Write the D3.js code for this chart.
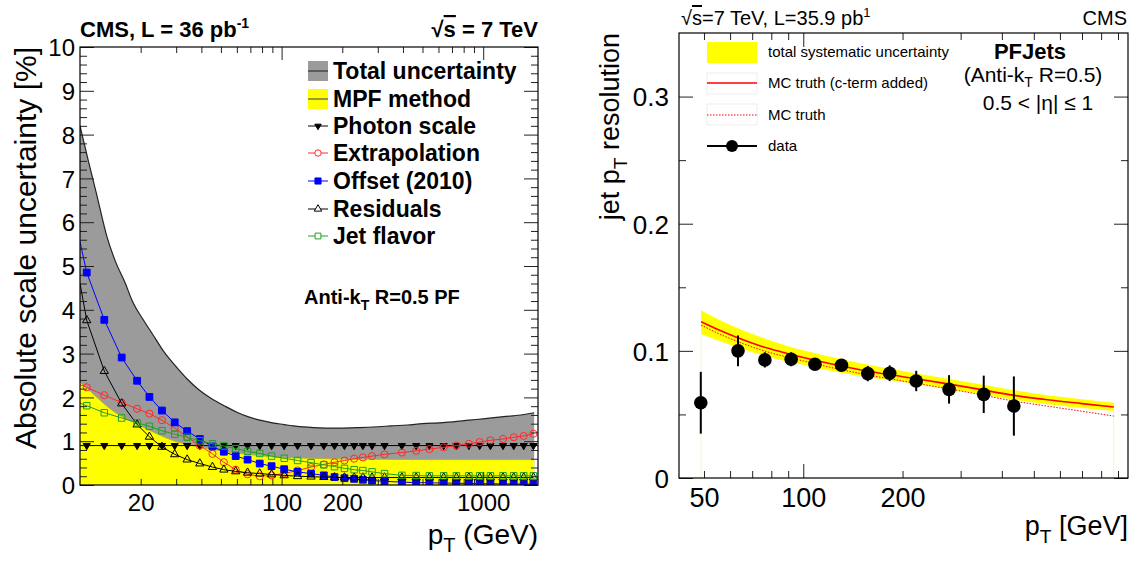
<!DOCTYPE html>
<html><head><meta charset="utf-8">
<script src="https://cdn.jsdelivr.net/npm/d3@7"></script>
<style>body{margin:0;background:#fff} text{font-family:"Liberation Sans",Arial,sans-serif}</style>
</head><body><svg id="c" width="1137" height="566" xmlns="http://www.w3.org/2000/svg"></svg>
<script>
// ---------- LEFT PANEL DATA ----------
const ptBins = [10.8, 13.2, 16.1, 19.2, 22.1, 25.5, 29.5, 34, 39.3, 45.4, 51.7, 59.2, 67.8, 77.9, 89.2, 103, 120, 140, 162, 183, 205, 229, 253, 281, 324, 395, 465, 541, 637, 736, 849, 960, 1086, 1254, 1417, 1589, 1775];
const photonScale = ptBins.map(() => 0.9);
const extrapolation = [2.23, 2.05, 1.88, 1.74, 1.63, 1.48, 1.30, 1.10, 0.90, 0.71, 0.52, 0.35, 0.245, 0.20, 0.22, 0.265, 0.33, 0.41, 0.47, 0.52, 0.56, 0.60, 0.63, 0.66, 0.70, 0.74, 0.78, 0.82, 0.86, 0.90, 0.94, 0.98, 1.02, 1.05, 1.09, 1.12, 1.17];
const offset2010 = [4.85, 3.77, 2.91, 2.38, 2.01, 1.70, 1.43, 1.23, 1.05, 0.88, 0.76, 0.66, 0.58, 0.49, 0.43, 0.36, 0.30, 0.26, 0.22, 0.18, 0.155, 0.14, 0.12, 0.10, 0.085, 0.065, 0.055, 0.05, 0.045, 0.04, 0.035, 0.03, 0.03, 0.025, 0.025, 0.02, 0.02];
const residuals = [3.76, 2.60, 1.86, 1.38, 1.10, 0.87, 0.70, 0.58, 0.49, 0.41, 0.35, 0.31, 0.28, 0.26, 0.24, 0.22, 0.20, 0.19, 0.18, 0.175, 0.17, 0.17, 0.17, 0.17, 0.17, 0.17, 0.17, 0.17, 0.17, 0.17, 0.17, 0.17, 0.17, 0.17, 0.17, 0.17, 0.17];
const jetFlavor = [1.81, 1.65, 1.53, 1.42, 1.34, 1.24, 1.16, 1.09, 1.01, 0.94, 0.89, 0.83, 0.77, 0.72, 0.66, 0.61, 0.56, 0.51, 0.46, 0.42, 0.38, 0.35, 0.33, 0.30, 0.26, 0.22, 0.215, 0.21, 0.21, 0.21, 0.21, 0.21, 0.21, 0.21, 0.21, 0.21, 0.21];
// curve values at the left frame edge (pT = 10)
const seriesEdge = {photon: 0.9, extrap: 2.29, offset: 5.55, resid: 4.6, flavor: 1.87};
const bandPt = [10, 11, 12, 13.6, 15, 16.8, 18.1, 20.4, 22.8, 26, 30, 34, 39, 45, 53, 60, 68, 78, 90, 103, 114, 135, 167, 200, 242, 300, 350, 420, 500, 600, 708, 850, 1000, 1200, 1400, 1600, 1790];
const totalUpper = [8.2, 7.4, 6.7, 5.67, 5.1, 4.6, 4.22, 3.8, 3.46, 3.05, 2.7, 2.42, 2.17, 1.97, 1.79, 1.66, 1.56, 1.48, 1.42, 1.38, 1.35, 1.32, 1.30, 1.30, 1.31, 1.33, 1.35, 1.37, 1.40, 1.42, 1.44, 1.48, 1.51, 1.55, 1.58, 1.61, 1.65];
const mpfUpper = [2.35, 2.18, 2.02, 1.80, 1.65, 1.52, 1.45, 1.33, 1.22, 1.10, 0.99, 0.93, 0.87, 0.82, 0.76, 0.73, 0.70, 0.67, 0.645, 0.63, 0.62, 0.61, 0.60, 0.595, 0.59, 0.59, 0.585, 0.585, 0.58, 0.58, 0.58, 0.58, 0.58, 0.58, 0.58, 0.58, 0.58];
const leftXLabels = [20, 100, 200, 1000];
const leftYTicks = [0,1,2,3,4,5,6,7,8,9,10];
const leftLegend = ["Total uncertainty", "MPF method", "Photon scale", "Extrapolation", "Offset (2010)", "Residuals", "Jet flavor"];

// ---------- RIGHT PANEL DATA ----------
const dataPt = [48.9, 63.4, 76.5, 91.9, 108.5, 130.6, 156.9, 182.8, 220, 276.7, 352.5, 435];
const dataRes = [0.0592, 0.1000, 0.0929, 0.0934, 0.0895, 0.0887, 0.0821, 0.0824, 0.0763, 0.0697, 0.0658, 0.0566];
const dataErr = [0.0243, 0.0121, 0.0060, 0.0055, 0.0035, 0.0040, 0.0060, 0.0062, 0.0080, 0.0112, 0.0147, 0.0233];
const curvePt = [49, 56, 63, 75, 88, 100, 120, 150, 200, 260, 330, 435, 550, 700, 874];
const mcCterm = [0.1229, 0.1160, 0.1105, 0.1035, 0.0985, 0.0947, 0.0900, 0.0850, 0.0797, 0.0750, 0.0705, 0.0650, 0.0615, 0.0585, 0.0558];
const mcTruth = [0.1203, 0.1130, 0.1075, 0.1005, 0.0955, 0.0921, 0.0872, 0.0820, 0.0763, 0.0712, 0.0665, 0.0605, 0.0565, 0.0525, 0.0487];
const sysHi = [0.1318, 0.1240, 0.1180, 0.1105, 0.1045, 0.1005, 0.0955, 0.0900, 0.0842, 0.0790, 0.0745, 0.0690, 0.0650, 0.0620, 0.0592];
const sysLo = [0.1132, 0.1075, 0.1030, 0.0965, 0.0920, 0.0890, 0.0845, 0.0800, 0.0755, 0.0710, 0.0668, 0.0615, 0.0580, 0.0550, 0.0526];
const rightXLabels = [50, 100, 200];
const rightYTicks = [0, 0.1, 0.2, 0.3];
const rightLegend = ["total systematic uncertainty", "MC truth (c-term added)", "MC truth", "data"];

const FONT = '"Liberation Sans", Arial, sans-serif';
const svg = d3.select('#c');

function logTicks(dom) {
  const out = [];
  for (let d = 1; d <= 10000; d *= 10) for (let k = 1; k <= 9; k++) {
    const v = k * d; if (v > dom[0] * 1.001 && v < dom[1] * 0.999) out.push(v);
  }
  return out;
}
function styleAxis(g) { g.select('.domain').remove(); g.selectAll('line').attr('stroke', '#222'); }

// ================= LEFT PANEL =================
const L = {x0: 80, x1: 538, y0: 47, y1: 485};
const xL = d3.scaleLog().domain([10, 1870]).range([L.x0, L.x1]);
const yL = d3.scaleLinear().domain([0, 10]).range([L.y1, L.y0]);
svg.append('clipPath').attr('id', 'clipL').append('rect').attr('x', L.x0).attr('y', L.y0).attr('width', L.x1 - L.x0).attr('height', L.y1 - L.y0);
const gL = svg.append('g').attr('clip-path', 'url(#clipL)');

const totPts = bandPt.map((p, i) => [p, totalUpper[i]]);
const mpfPts = bandPt.map((p, i) => [p, mpfUpper[i]]);
const areaL = d3.area().x(d => xL(d[0])).y0(yL(0)).y1(d => yL(d[1])).curve(d3.curveMonotoneX);
const lineL = d3.line().x(d => xL(d[0])).y(d => yL(d[1])).curve(d3.curveMonotoneX);
gL.append('path').attr('d', areaL(totPts)).attr('fill', '#9b9b9b');
gL.append('path').attr('d', lineL(totPts)).attr('fill', 'none').attr('stroke', '#222').attr('stroke-width', 1.2);
gL.append('path').attr('d', areaL(mpfPts)).attr('fill', '#ffff00');
gL.append('path').attr('d', lineL(mpfPts)).attr('fill', 'none').attr('stroke', '#b5b530').attr('stroke-width', 1);

const seriesDefs = [
  {vals: photonScale, edge: seriesEdge.photon, color: '#000', sym: d3.symbolTriangle, size: 22, fill: '#000', rot: 180, extendEnd: true},
  {vals: extrapolation, edge: seriesEdge.extrap, color: '#ff2a2a', sym: d3.symbolCircle, size: 40, fill: 'none', rot: 0},
  {vals: offset2010, edge: seriesEdge.offset, color: '#0000ff', sym: d3.symbolSquare, size: 46, fill: '#0000ff', rot: 0},
  {vals: residuals, edge: seriesEdge.resid, color: '#000', sym: d3.symbolTriangle, size: 30, fill: 'none', rot: 0},
  {vals: jetFlavor, edge: seriesEdge.flavor, color: '#22a022', sym: d3.symbolSquare, size: 42, fill: 'none', rot: 0}
];
const lineLin = d3.line().x(d => xL(d[0])).y(d => yL(d[1]));
seriesDefs.forEach(s => {
  const pts = ptBins.map((p, i) => [p, s.vals[i]]);
  const lp = [[10, s.edge], ...pts];
  if (s.extendEnd) lp.push([1870, s.vals[s.vals.length - 1]]);
  gL.append('path').attr('d', lineLin(lp)).attr('fill', 'none').attr('stroke', s.color).attr('stroke-width', 1);
  gL.append('g').selectAll('path').data(pts).join('path')
    .attr('transform', d => `translate(${xL(d[0])},${yL(d[1])}) rotate(${s.rot})`)
    .attr('d', d3.symbol(s.sym, s.size)())
    .attr('fill', s.fill).attr('stroke', s.color).attr('stroke-width', 1);
});

// left axes
const lxMinor = logTicks(xL.domain()).filter(v => v !== 100 && v !== 1000);
const lxMajor = [100, 1000];
svg.append('g').attr('transform', `translate(0,${L.y1})`).call(d3.axisBottom(xL).tickValues(lxMinor).tickSize(-6).tickFormat('')).call(styleAxis);
svg.append('g').attr('transform', `translate(0,${L.y1})`).call(d3.axisBottom(xL).tickValues(lxMajor).tickSize(-13).tickFormat('')).call(styleAxis);
svg.append('g').attr('transform', `translate(0,${L.y0})`).call(d3.axisTop(xL).tickValues(lxMinor).tickSize(-6).tickFormat('')).call(styleAxis);
svg.append('g').attr('transform', `translate(0,${L.y0})`).call(d3.axisTop(xL).tickValues(lxMajor).tickSize(-13).tickFormat('')).call(styleAxis);
svg.append('g').attr('transform', `translate(0,${L.y1})`).call(d3.axisBottom(xL).tickValues(leftXLabels).tickSize(0).tickFormat(d3.format('d')))
  .call(styleAxis).call(g => g.selectAll('text').attr('y', 26).attr('dy', 0).attr('font-size', 24).attr('font-family', FONT).attr('fill', '#000'));
const lyMinor = d3.range(0, 10.001, 0.2).map(v => +v.toFixed(1)).filter(v => Math.abs(v - Math.round(v)) > 0.01);
svg.append('g').attr('transform', `translate(${L.x0},0)`).call(d3.axisLeft(yL).tickValues(lyMinor).tickSize(-7).tickFormat('')).call(styleAxis);
svg.append('g').attr('transform', `translate(${L.x0},0)`).call(d3.axisLeft(yL).tickValues(leftYTicks).tickSize(-14).tickFormat('')).call(styleAxis);
svg.append('g').attr('transform', `translate(${L.x1},0)`).call(d3.axisRight(yL).tickValues(lyMinor).tickSize(-7).tickFormat('')).call(styleAxis);
svg.append('g').attr('transform', `translate(${L.x1},0)`).call(d3.axisRight(yL).tickValues(leftYTicks).tickSize(-14).tickFormat('')).call(styleAxis);
svg.append('g').attr('transform', `translate(${L.x0},0)`).call(d3.axisLeft(yL).tickValues(leftYTicks).tickSize(0).tickPadding(5).tickFormat(d3.format('d')))
  .call(styleAxis).call(g => g.selectAll('text').attr('dy', '0.36em').attr('font-size', 24).attr('font-family', FONT).attr('fill', '#000'));
svg.append('rect').attr('x', L.x0).attr('y', L.y0).attr('width', L.x1 - L.x0).attr('height', L.y1 - L.y0).attr('fill', 'none').attr('stroke', '#000').attr('stroke-width', 1.2);

// left texts
const tL1 = svg.append('text').attr('x', L.x0).attr('y', 37).attr('font-size', 22).attr('font-weight', 'bold');
tL1.append('tspan').text('CMS, L = 36 pb');
tL1.append('tspan').attr('font-size', 14).attr('dy', -9).text('-1');
const tL2 = svg.append('text').attr('x', L.x1).attr('y', 37).attr('font-size', 22).attr('font-weight', 'bold').attr('text-anchor', 'end');
tL2.append('tspan').text('√');
tL2.append('tspan').attr('text-decoration', 'overline').text('s');
tL2.append('tspan').text(' = 7 TeV');
svg.append('text').attr('transform', `translate(36,${L.y0}) rotate(-90)`).attr('text-anchor', 'end').attr('font-size', 30).text('Absolute scale uncertainty [%]');
const xLab = svg.append('text').attr('x', L.x1).attr('y', 544).attr('font-size', 28).attr('text-anchor', 'end');
xLab.append('tspan').text('p');
xLab.append('tspan').attr('font-size', 20).attr('dy', 8).text('T');
xLab.append('tspan').attr('dy', -8).text(' (GeV)');
const ak = svg.append('text').attr('x', 304).attr('y', 304).attr('font-size', 20).attr('font-weight', 'bold');
ak.append('tspan').text('Anti-k');
ak.append('tspan').attr('font-size', 14).attr('dy', 6).text('T');
ak.append('tspan').attr('dy', -6).text(' R=0.5 PF');

// left legend
const legRows = [71, 99, 126, 153, 181, 209, 236];
const lgx0 = 308, lgx1 = 328, lgm = 318;
svg.append('rect').attr('x', lgx0).attr('y', legRows[0] - 10).attr('width', 20).attr('height', 20).attr('fill', '#9b9b9b');
svg.append('line').attr('x1', lgx0).attr('x2', lgx1).attr('y1', legRows[0]).attr('y2', legRows[0]).attr('stroke', '#333').attr('stroke-width', 1.2);
svg.append('rect').attr('x', lgx0).attr('y', legRows[1] - 10).attr('width', 20).attr('height', 20).attr('fill', '#ffff00');
svg.append('line').attr('x1', lgx0).attr('x2', lgx1).attr('y1', legRows[1]).attr('y2', legRows[1]).attr('stroke', '#555').attr('stroke-width', 1.2);
seriesDefs.forEach((s, i) => {
  const y = legRows[i + 2];
  svg.append('line').attr('x1', lgx0).attr('x2', lgx1).attr('y1', y).attr('y2', y).attr('stroke', s.color).attr('stroke-width', 1);
  svg.append('path').attr('transform', `translate(${lgm},${y}) rotate(${s.rot})`).attr('d', d3.symbol(s.sym, s.size * 0.8)())
    .attr('fill', s.fill === 'none' ? '#fff' : s.fill).attr('stroke', s.color);
});
leftLegend.forEach((t, i) => {
  svg.append('text').attr('x', 333).attr('y', legRows[i] + 8).attr('font-size', 23).attr('font-weight', 'bold').text(t);
});

// ================= RIGHT PANEL =================
const R = {x0: 679, x1: 1128, y0: 33, y1: 478};
const xR = d3.scaleLog().domain([42, 965]).range([R.x0, R.x1]);
const yR = d3.scaleLinear().domain([0, 0.35]).range([R.y1, R.y0]);
const gR = svg.append('g');
const bandR = d3.area().x((d, i) => xR(curvePt[i])).y0((d, i) => yR(sysLo[i])).y1((d, i) => yR(sysHi[i])).curve(d3.curveMonotoneX);
gR.append('path').attr('d', bandR(curvePt)).attr('fill', '#ffff00');
[curvePt[0], curvePt[curvePt.length - 1]].forEach((p, k) => {
  const lo = k === 0 ? sysLo[0] : sysLo[sysLo.length - 1];
  gR.append('line').attr('x1', xR(p)).attr('x2', xR(p)).attr('y1', yR(lo)).attr('y2', yR(0)).attr('stroke', '#f6f6c8').attr('stroke-width', 1);
});
const lineR = arr => d3.line().x((d, i) => xR(curvePt[i])).y((d, i) => yR(arr[i])).curve(d3.curveMonotoneX)(arr);
gR.append('path').attr('d', lineR(mcTruth)).attr('fill', 'none').attr('stroke', '#ff0000').attr('stroke-width', 1).attr('stroke-dasharray', '1.5,1.5');
gR.append('path').attr('d', lineR(mcCterm)).attr('fill', 'none').attr('stroke', '#ff0000').attr('stroke-width', 1.6);
gR.append('g').selectAll('line').data(dataPt).join('line')
  .attr('x1', d => xR(d)).attr('x2', d => xR(d))
  .attr('y1', (d, i) => yR(dataRes[i] + dataErr[i])).attr('y2', (d, i) => yR(dataRes[i] - dataErr[i]))
  .attr('stroke', '#000').attr('stroke-width', 2);
gR.append('g').selectAll('circle').data(dataPt).join('circle')
  .attr('cx', d => xR(d)).attr('cy', (d, i) => yR(dataRes[i])).attr('r', 6.8).attr('fill', '#000');

// right axes
const rxMinor = logTicks(xR.domain()).filter(v => v !== 100);
svg.append('g').attr('transform', `translate(0,${R.y1})`).call(d3.axisBottom(xR).tickValues(rxMinor).tickSize(-7).tickFormat('')).call(styleAxis);
svg.append('g').attr('transform', `translate(0,${R.y1})`).call(d3.axisBottom(xR).tickValues([100]).tickSize(-14).tickFormat('')).call(styleAxis);
svg.append('g').attr('transform', `translate(0,${R.y0})`).call(d3.axisTop(xR).tickValues(rxMinor).tickSize(-7).tickFormat('')).call(styleAxis);
svg.append('g').attr('transform', `translate(0,${R.y0})`).call(d3.axisTop(xR).tickValues([100]).tickSize(-14).tickFormat('')).call(styleAxis);
svg.append('g').attr('transform', `translate(0,${R.y1})`).call(d3.axisBottom(xR).tickValues(rightXLabels).tickSize(0).tickFormat(d3.format('d')))
  .call(styleAxis).call(g => g.selectAll('text').attr('y', 29).attr('dy', 0).attr('font-size', 27).attr('font-family', FONT).attr('fill', '#000'));
const ryMinor = [0.05, 0.15, 0.25];
svg.append('g').attr('transform', `translate(${R.x0},0)`).call(d3.axisLeft(yR).tickValues(ryMinor).tickSize(-7).tickFormat('')).call(styleAxis);
svg.append('g').attr('transform', `translate(${R.x0},0)`).call(d3.axisLeft(yR).tickValues(rightYTicks).tickSize(-14).tickFormat('')).call(styleAxis);
svg.append('g').attr('transform', `translate(${R.x1},0)`).call(d3.axisRight(yR).tickValues(ryMinor).tickSize(-7).tickFormat('')).call(styleAxis);
svg.append('g').attr('transform', `translate(${R.x1},0)`).call(d3.axisRight(yR).tickValues(rightYTicks).tickSize(-14).tickFormat('')).call(styleAxis);
svg.append('g').attr('transform', `translate(${R.x0},0)`).call(d3.axisLeft(yR).tickValues(rightYTicks).tickSize(0).tickPadding(10).tickFormat(d => d === 0 ? '0' : d3.format('.1f')(d)))
  .call(styleAxis).call(g => g.selectAll('text').attr('dy', '0.36em').attr('font-size', 26).attr('font-family', FONT).attr('fill', '#000'));
svg.append('rect').attr('x', R.x0).attr('y', R.y0).attr('width', R.x1 - R.x0).attr('height', R.y1 - R.y0).attr('fill', 'none').attr('stroke', '#000').attr('stroke-width', 1.2);

// right texts
const tR1 = svg.append('text').attr('x', 681).attr('y', 25).attr('font-size', 20);
tR1.append('tspan').text('√');
tR1.append('tspan').attr('text-decoration', 'overline').text('s');
tR1.append('tspan').text('=7 TeV, L=35.9 pb');
tR1.append('tspan').attr('font-size', 13).attr('dy', -8).text('1');
svg.append('text').attr('x', 1127).attr('y', 25).attr('font-size', 20).attr('text-anchor', 'end').text('CMS');
svg.append('text').attr('transform', `translate(619,${R.y0}) rotate(-90)`).attr('text-anchor', 'end').attr('font-size', 27)
  .call(t => { t.append('tspan').text('jet p'); t.append('tspan').attr('font-size', 19).attr('dy', 8).text('T'); t.append('tspan').attr('dy', -8).text(' resolution'); });
const xRLab = svg.append('text').attr('x', R.x1).attr('y', 535).attr('font-size', 27).attr('text-anchor', 'end');
xRLab.append('tspan').text('p');
xRLab.append('tspan').attr('font-size', 19).attr('dy', 8).text('T');
xRLab.append('tspan').attr('dy', -8).text(' [GeV]');
svg.append('text').attr('x', 1030).attr('y', 59).attr('font-size', 22).attr('font-weight', 'bold').attr('text-anchor', 'middle').text('PFJets');
const akR = svg.append('text').attr('x', 1033).attr('y', 82).attr('font-size', 21).attr('text-anchor', 'middle');
akR.append('tspan').text('(Anti-k');
akR.append('tspan').attr('font-size', 14).attr('dy', 5).text('T');
akR.append('tspan').attr('dy', -5).text(' R=0.5)');
svg.append('text').attr('x', 1038).attr('y', 110).attr('font-size', 21).attr('text-anchor', 'middle').text('0.5 < |η| ≤ 1');

// right legend
const rRows = [52, 83, 115, 146];
const rx0 = 707, rx1 = 757;
svg.append('rect').attr('x', rx0).attr('y', 42).attr('width', 50).attr('height', 21).attr('fill', '#ffff00');
svg.append('rect').attr('x', rx0).attr('y', 73).attr('width', 50).attr('height', 21).attr('fill', 'none').attr('stroke', '#eeeeee');
svg.append('rect').attr('x', rx0).attr('y', 104).attr('width', 50).attr('height', 21).attr('fill', 'none').attr('stroke', '#eeeeee');
svg.append('line').attr('x1', rx0).attr('x2', rx1).attr('y1', rRows[1]).attr('y2', rRows[1]).attr('stroke', '#ff0000').attr('stroke-width', 1.6);
svg.append('line').attr('x1', rx0).attr('x2', rx1).attr('y1', rRows[2]).attr('y2', rRows[2]).attr('stroke', '#ff0000').attr('stroke-width', 1).attr('stroke-dasharray', '1.5,1.5');
svg.append('line').attr('x1', rx0).attr('x2', rx1).attr('y1', rRows[3]).attr('y2', rRows[3]).attr('stroke', '#000').attr('stroke-width', 2);
svg.append('circle').attr('cx', (rx0 + rx1) / 2).attr('cy', rRows[3]).attr('r', 6).attr('fill', '#000');
rightLegend.forEach((t, i) => {
  svg.append('text').attr('x', 768).attr('y', rRows[i] + 5).attr('font-size', 15).text(t);
});
</script></body></html>
